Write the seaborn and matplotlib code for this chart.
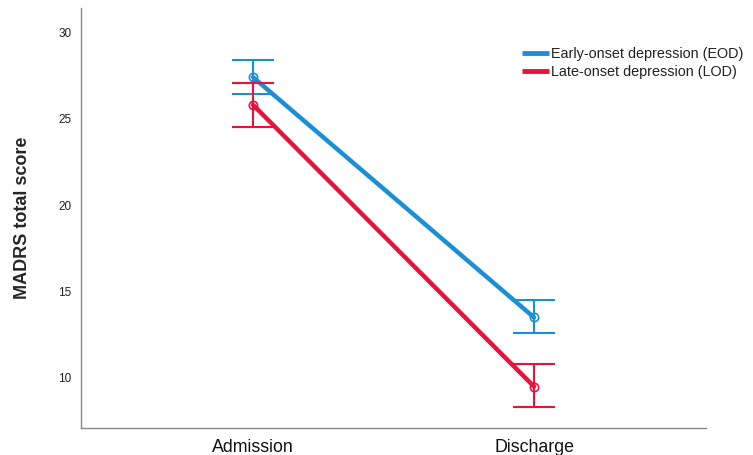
import pandas as pd
import seaborn as sns
import matplotlib.pyplot as plt
from matplotlib.lines import Line2D

# values
timepoints = ["Admission", "Discharge"]
groups = ["Early-onset depression (EOD)", "Late-onset depression (LOD)"]
eod_mean = [27.4, 13.5]
eod_low = [26.4, 12.6]
eod_high = [28.4, 14.5]
lod_mean = [25.8, 9.5]
lod_low = [24.5, 8.3]
lod_high = [27.05, 10.8]

colors = ["#1a8fd5", "#e8133d"]

sns.set_theme(style="white")
plt.rcParams['font.family'] = ['Liberation Sans', 'DejaVu Sans']

fig = plt.figure(figsize=(7.53, 4.55), dpi=100)
ax = fig.add_axes([0.1076, 0.0593, 0.83, 0.923])

series = [(eod_mean, eod_low, eod_high), (lod_mean, lod_low, lod_high)]
for (m, lo, hi), g, c in zip(series, groups, colors):
    df = pd.DataFrame({"time": timepoints, "score": m})
    sns.lineplot(data=df, x="time", y="score", color=c, linewidth=3.2,
                 marker="o", markersize=6, markerfacecolor="none",
                 markeredgecolor=c, markeredgewidth=1.2, ax=ax, zorder=3)
    err = [[a - b for a, b in zip(m, lo)], [b - a for a, b in zip(m, hi)]]
    ax.errorbar(timepoints, m, yerr=err, fmt="none", ecolor=c,
                elinewidth=1.5, capsize=15, capthick=1.5, zorder=3)

ax.set_xlim(-0.612, 1.612)
ax.set_ylim(7.1, 31.4)
ax.set_yticks([10, 15, 20, 25, 30])
ax.tick_params(axis="y", labelsize=8.5, length=0, pad=7, colors="#222222")
ax.tick_params(axis="x", labelsize=12.8, length=0, pad=8, colors="#111111")
ax.set_xlabel("")
ax.set_ylabel("MADRS total score", fontsize=13, fontweight="bold", labelpad=19.5)

sns.despine(ax=ax)
for s in ["left", "bottom"]:
    ax.spines[s].set_color("#888888")
    ax.spines[s].set_linewidth(1.0)

handles = [Line2D([0], [0], color=c, linewidth=3.5, solid_capstyle="butt") for c in colors]
ax.legend(handles, groups, loc="upper left", bbox_to_anchor=(0.696, 0.921),
          frameon=False, fontsize=10.4, handlelength=1.85, handletextpad=0.2,
          labelspacing=0.25, borderaxespad=0, labelcolor="#222222")

fig.savefig("out.png", dpi=100)
